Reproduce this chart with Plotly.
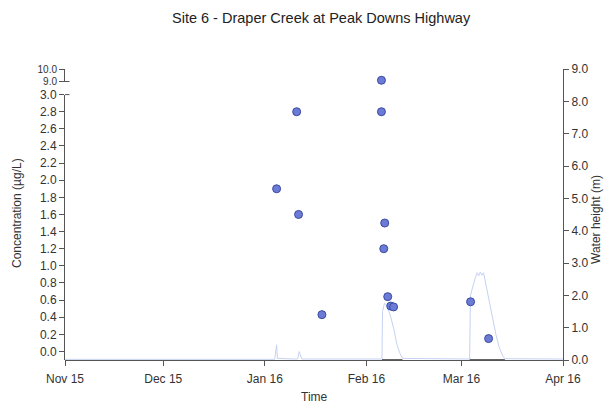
import plotly.graph_objects as go

# ---- data ----
conc_dates = ["2016-01-04 14:00", "2016-01-10 17:00", "2016-01-11 07:00", "2016-01-18 10:00",
              "2016-02-05 14:00", "2016-02-06 14:00", "2016-02-06 07:00", "2016-02-07 12:00",
              "2016-02-08 10:00", "2016-02-09 07:00", "2016-03-03 19:00", "2016-03-09 07:00"]
conc_values = [1.9, 2.8, 1.6, 0.43, 2.8, 1.5, 1.2, 0.64, 0.53, 0.52, 0.58, 0.15]
high_dates = ["2016-02-05 14:00"]
high_values = [9.1]

wh_dates = ["2015-11-01 00:00", "2015-11-20 00:00", "2015-12-15 00:00", "2016-01-04 00:00",
            "2016-01-04 14:00", "2016-01-04 20:00", "2016-01-10 00:00", "2016-01-11 00:00",
            "2016-01-11 12:00", "2016-01-12 06:00", "2016-02-05 18:00", "2016-02-05 22:00",
            "2016-02-06 12:00", "2016-02-07 06:00", "2016-02-08 12:00", "2016-02-09 12:00",
            "2016-02-10 06:00", "2016-02-11 06:00", "2016-02-12 00:00", "2016-03-03 12:00",
            "2016-03-03 18:00", "2016-03-04 12:00", "2016-03-05 06:00", "2016-03-05 18:00",
            "2016-03-06 06:00", "2016-03-06 18:00", "2016-03-07 06:00", "2016-03-07 18:00",
            "2016-03-08 12:00", "2016-03-09 12:00", "2016-03-10 12:00", "2016-03-11 12:00",
            "2016-03-12 12:00", "2016-03-13 12:00", "2016-03-14 06:00", "2016-04-01 00:00"]
wh_values = [0.02, 0.02, 0.02, 0.02,
             0.47, 0.05, 0.03, 0.03,
             0.26, 0.03, 0.03, 1.5,
             1.75, 1.7, 1.3, 0.9,
             0.5, 0.2, 0.05, 0.03,
             2.0, 2.3, 2.55, 2.7,
             2.6, 2.72, 2.62, 2.7,
             2.3, 1.8, 1.3, 0.8,
             0.4, 0.15, 0.04, 0.03]

base_dates = ["2016-02-05 18:00", "2016-02-12 00:00", None, "2016-03-03 12:00", "2016-03-14 06:00"]
base_values = [0.0, 0.0, None, 0.0, 0.0]

tick_dates = ["2015-11-01", "2015-12-01", "2016-01-01", "2016-02-01", "2016-03-01", "2016-04-01"]
tick_labels = ["Nov 15", "Dec 15", "Jan 16", "Feb 16", "Mar 16", "Apr 16"]
low_ticks = [round(0.2 * i, 1) for i in range(16)]
wh_ticks = [float(i) for i in range(10)]

FONT = "Liberation Sans, Arial, sans-serif"
AX = "#555555"
marker = dict(size=8, color="#6b7bd6", line=dict(color="#3a4aa0", width=1))

fig = go.Figure()
fig.add_trace(go.Scatter(x=wh_dates, y=wh_values, mode="lines", xaxis="x", yaxis="y",
                         line=dict(color="#c6d2f3", width=1), showlegend=False, hoverinfo="skip"))
fig.add_trace(go.Scatter(x=base_dates, y=base_values, mode="lines", xaxis="x", yaxis="y",
                         line=dict(color="#666666", width=2), showlegend=False, cliponaxis=False,
                         connectgaps=False, hoverinfo="skip"))
fig.add_trace(go.Scatter(x=conc_dates, y=conc_values, mode="markers", xaxis="x", yaxis="y2",
                         marker=marker, showlegend=False, cliponaxis=False))
fig.add_trace(go.Scatter(x=high_dates, y=high_values, mode="markers", xaxis="x", yaxis="y3",
                         marker=marker, showlegend=False, cliponaxis=False))

tickfont = dict(family=FONT, size=12, color="#333333")
upper_font = dict(family=FONT, size=10, color="#333333")
LOW1 = 0.912
UP0 = 0.957
# the page body adds an 8px offset, so the figure is drawn 8px smaller with shifted margins
fig.update_layout(
    width=604, height=397,
    margin=dict(l=57, r=49, t=61, b=45),
    paper_bgcolor="white", plot_bgcolor="rgba(0,0,0,0)",
    font=dict(family=FONT, size=12, color="#333333"),
    xaxis=dict(type="date", range=["2015-11-01", "2016-04-01"], tickvals=tick_dates,
               ticktext=tick_labels, showgrid=False, zeroline=False, showline=True,
               linecolor=AX, linewidth=1, ticks="outside", ticklen=5, tickcolor=AX,
               tickfont=tickfont, anchor="y", ticklabelstandoff=3),
    yaxis=dict(range=[0, 9], tickvals=wh_ticks, ticktext=["%.1f" % v for v in wh_ticks],
               side="right", anchor="x", domain=[0, 1], showgrid=False, zeroline=False,
               showline=True, linecolor=AX, linewidth=1, ticks="outside", ticklen=5,
               tickcolor=AX, tickfont=tickfont),
    yaxis2=dict(range=[-0.1, 3.0], tickvals=low_ticks, ticktext=["%.1f" % v for v in low_ticks],
                side="left", anchor="x", domain=[0, LOW1], showgrid=False, zeroline=False,
                showline=True, linecolor=AX, linewidth=1, ticks="outside", ticklen=5,
                tickcolor=AX, tickfont=tickfont),
    yaxis3=dict(range=[9.0, 10.0], tickvals=[9.0, 10.0], ticktext=["9.0", "10.0"],
                side="left", anchor="x", domain=[UP0, 1.0], showgrid=False, zeroline=False,
                showline=True, linecolor=AX, linewidth=1, ticks="outside", ticklen=5,
                tickcolor=AX, tickfont=upper_font),
)

# axis-break marks
for yp in (LOW1, UP0):
    fig.add_shape(type="line", xref="paper", yref="paper", x0=0, x1=0.009, y0=yp, y1=yp,
                  line=dict(color=AX, width=1))

ann = dict(xref="paper", yref="paper", showarrow=False, xanchor="center", yanchor="middle")
fig.add_annotation(text="Site 6 - Draper Creek at Peak Downs Highway",
                   x=(321 - 65) / 498, y=(360 - 18) / 291,
                   font=dict(family=FONT, size=14.5, color="#222222"), **ann)
fig.add_annotation(text="Concentration (µg/L)",
                   x=(17 - 65) / 498, y=(360 - 213) / 291, textangle=-90,
                   font=dict(family=FONT, size=12, color="#333333"), **ann)
fig.add_annotation(text="Water height (m)",
                   x=(596 - 65) / 498, y=(360 - 220) / 291, textangle=-90,
                   font=dict(family=FONT, size=12, color="#333333"), **ann)
fig.add_annotation(text="Time",
                   x=(314 - 65) / 498, y=(360 - 397) / 291,
                   font=dict(family=FONT, size=12, color="#333333"), **ann)

fig.write_html("out.html")
